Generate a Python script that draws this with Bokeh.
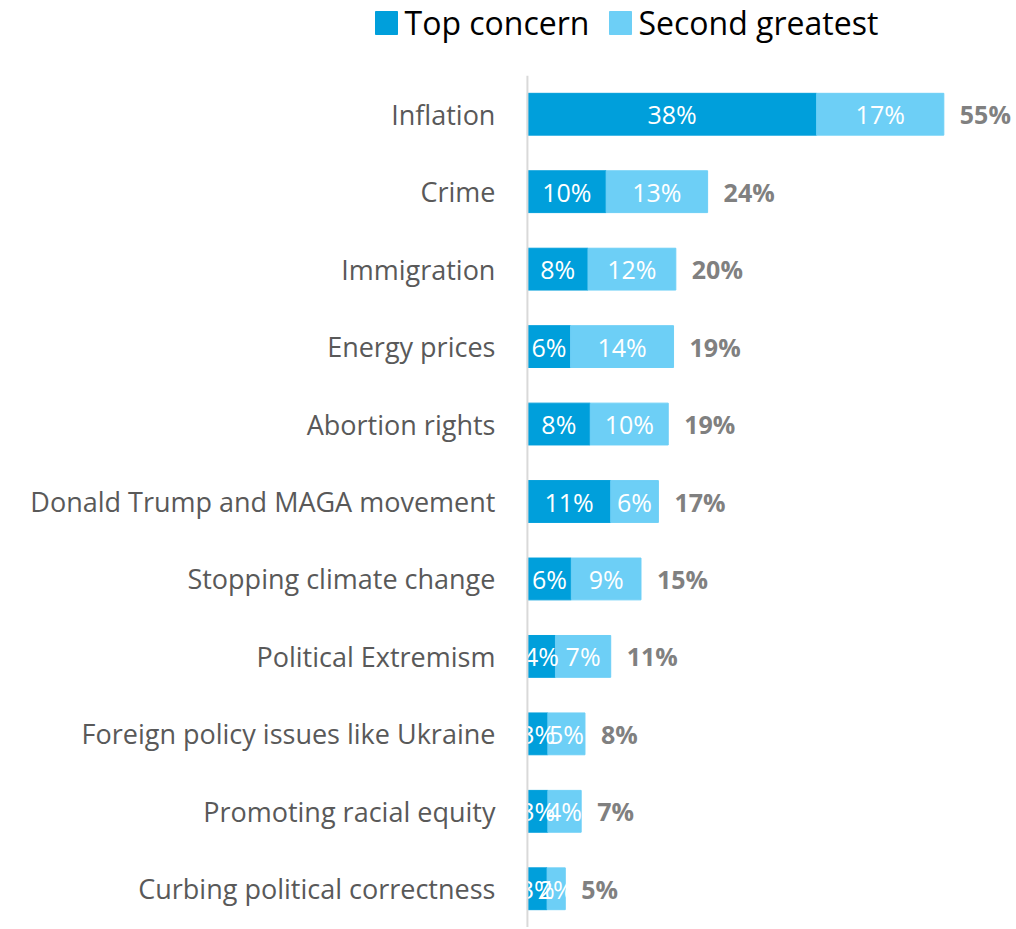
from bokeh.plotting import figure
from bokeh.models import ColumnDataSource, FactorRange, Range1d, Span
from bokeh.layouts import column
from bokeh.core.properties import value
from bokeh.embed import file_html
from bokeh.resources import INLINE

categories = ["Inflation", "Crime", "Immigration", "Energy prices", "Abortion rights",
              "Donald Trump and MAGA movement", "Stopping climate change",
              "Political Extremism", "Foreign policy issues like Ukraine",
              "Promoting racial equity", "Curbing political correctness"]
top_concern = [38.2, 10.4, 8.0, 5.7, 8.3, 11.0, 5.8, 3.7, 2.7, 2.7, 2.6]
second_greatest = [16.8, 13.4, 11.6, 13.6, 10.3, 6.3, 9.2, 7.3, 4.9, 4.4, 2.4]
series_names = ["Top concern", "Second greatest"]

FONT = "Open Sans"
C_TOP = "#009FDB"
C_SEC = "#6DCFF6"
W = 1016

# ---- legend strip (pixel-like coordinates) ----
leg = figure(width=W, height=75, output_backend="svg", toolbar_location=None,
             x_range=Range1d(0, W), y_range=Range1d(75, 0),
             min_border=0, outline_line_color=None)
leg.axis.visible = False
leg.grid.visible = False
leg.rect(x=[386, 620], y=[22.5, 22.5], width=22, height=23, color=[C_TOP, C_SEC])
leg.text(x=[404, 638], y=[22, 22], text=series_names, text_baseline="middle",
         text_align="left", text_color="black", text_font=value(FONT), text_font_size="32px")

# ---- main chart ----
totals = [a + b for a, b in zip(top_concern, second_greatest)]
src = ColumnDataSource(dict(
    cat=categories,
    top=top_concern,
    sec=second_greatest,
    total=totals,
    zero=[0] * len(categories),
    top_mid=[a / 2 for a in top_concern],
    sec_mid=[a + b / 2 for a, b in zip(top_concern, second_greatest)],
    top_lbl=[f"{round(v)}%" for v in top_concern],
    sec_lbl=[f"{round(v)}%" for v in second_greatest],
    tot_lbl=[f"{round(v)}%" for v in totals],
))

p = figure(width=W, height=852, output_backend="svg", toolbar_location=None,
           y_range=FactorRange(factors=list(reversed(categories)), range_padding=0),
           x_range=Range1d(-69.6, 64.6), min_border=0)
p.outline_line_color = None
p.grid.visible = False
p.axis.visible = False

p.add_layout(Span(location=0, dimension="height", line_color="#D9D9D9", line_width=2))

p.hbar(y="cat", left=0, right="top", height=0.54, color=C_TOP, source=src)
p.hbar(y="cat", left="top", right="total", height=0.54, color=C_SEC, source=src)

p.text(x="zero", y="cat", text="cat", source=src, text_align="right", x_offset=-32,
       text_baseline="middle", text_color="#595959", text_font=value(FONT), text_font_size="27px")
p.text(x="top_mid", y="cat", text="top_lbl", source=src, text_align="center",
       text_baseline="middle", text_color="white", text_font=value(FONT), text_font_size="25px")
p.text(x="sec_mid", y="cat", text="sec_lbl", source=src, text_align="center",
       text_baseline="middle", text_color="white", text_font=value(FONT), text_font_size="25px")
p.text(x="total", y="cat", text="tot_lbl", source=src, text_align="left", x_offset=16,
       text_baseline="middle", text_color="#808080", text_font=value(FONT),
       text_font_size="25px", text_font_style="bold")

layout = column(leg, p, spacing=0)
open("out.html", "w").write(file_html(layout, INLINE))
